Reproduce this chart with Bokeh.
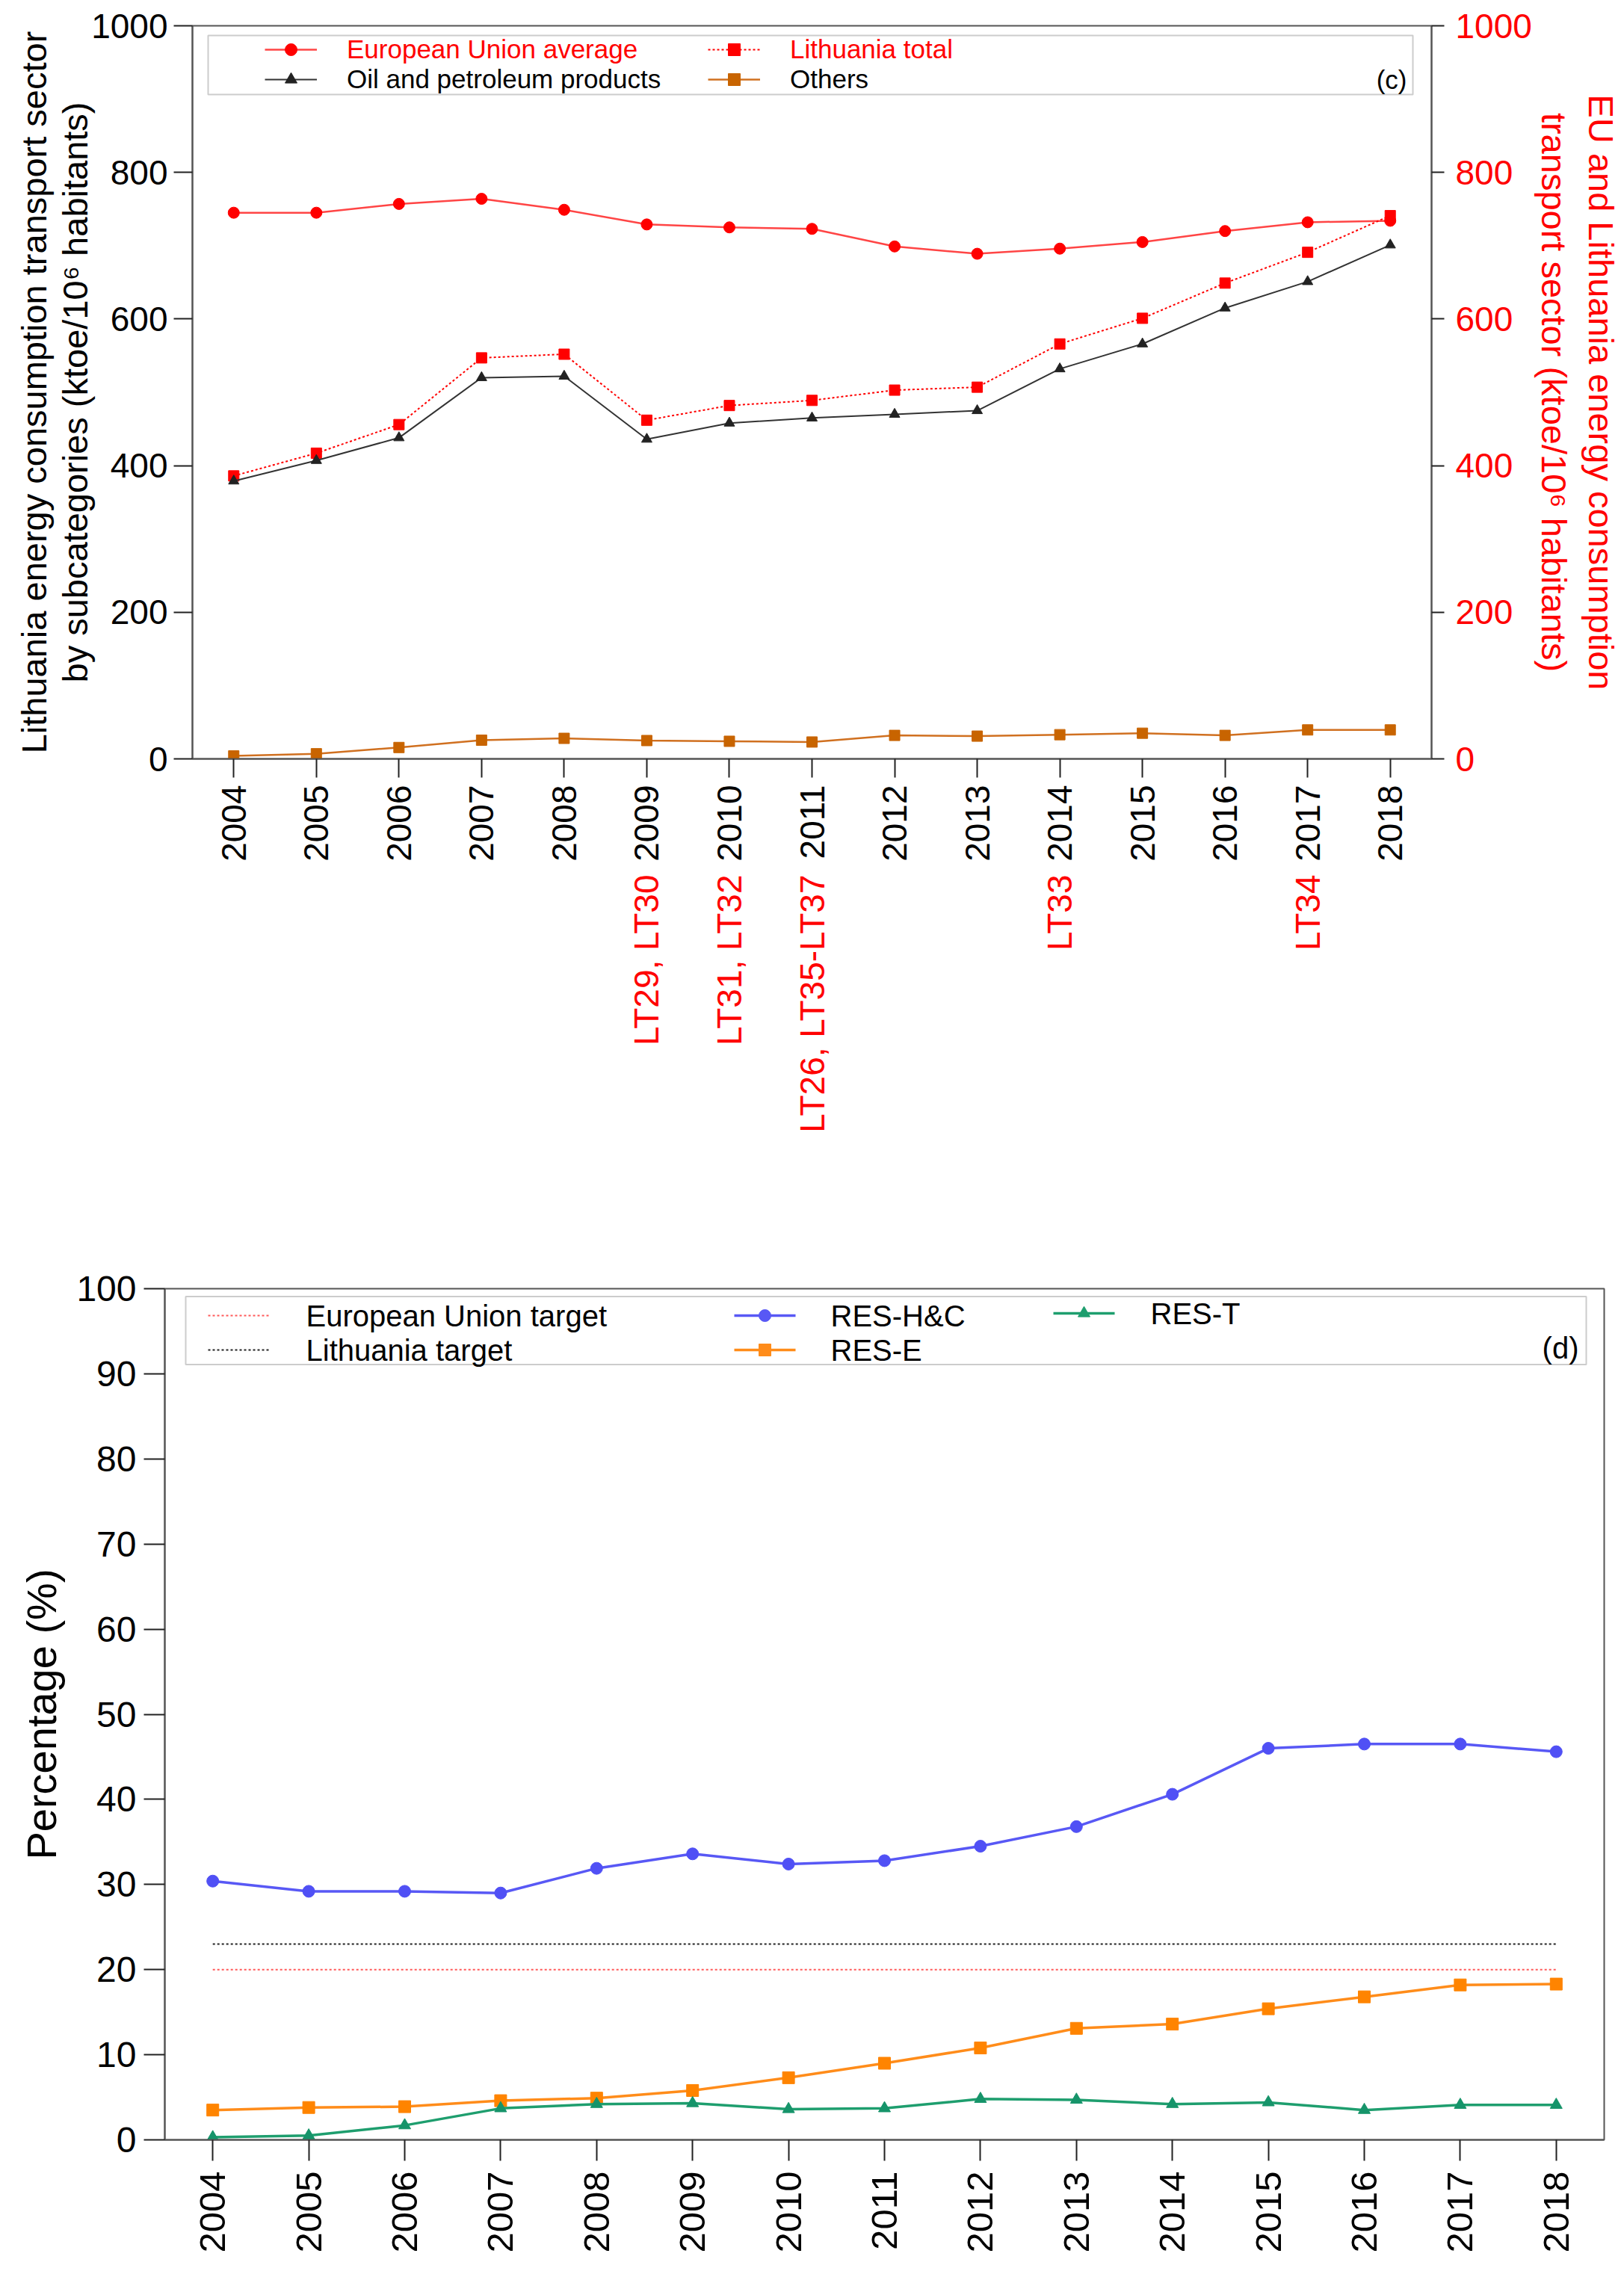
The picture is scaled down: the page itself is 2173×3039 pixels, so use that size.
import math
from bokeh.embed import file_html
from bokeh.resources import INLINE
from bokeh.plotting import figure
from bokeh.models import (ColumnDataSource, LinearAxis, Range1d, FixedTicker, Label, Title,
                          Legend, LegendItem, BoxAnnotation)

# ---- data -------------------------------------------------------------
years = list(range(2004, 2019))

# (c) transport sector, ktoe / 10^6 habitants
eu_average = [745, 745, 757, 764, 749, 729, 725, 723, 699, 689, 696, 705, 720, 732, 734]
lt_total = [386, 417, 456, 547, 552, 462, 482, 489, 503, 507, 566, 601, 649, 691, 741]
oil_products = [379, 407, 438, 520, 522, 436, 458, 465, 470, 475, 532, 566, 615, 651, 701]
others = [4, 7, 15.5, 25.5, 28, 25, 24, 23, 32, 31, 33, 35, 32, 39.5, 39.5]

measure_years = [2009, 2010, 2011, 2014, 2017]
measure_labels = ["LT29, LT30", "LT31, LT32", "LT26, LT35-LT37", "LT33", "LT34"]

# (d) renewable shares, %
res_hc = [30.4, 29.2, 29.2, 29.0, 31.9, 33.6, 32.4, 32.8, 34.5, 36.8, 40.6, 46.0, 46.5, 46.5, 45.6]
res_e = [3.5, 3.8, 3.9, 4.6, 4.9, 5.8, 7.3, 9.0, 10.8, 13.1, 13.6, 15.4, 16.8, 18.2, 18.3]
res_t = [0.3, 0.5, 1.7, 3.7, 4.2, 4.3, 3.6, 3.7, 4.8, 4.7, 4.2, 4.4, 3.5, 4.1, 4.1]
eu_target = 20
lt_target = 23

FONT = "Liberation Sans"
AXIS = "#555555"
TICK = "#222222"


def style_axis(ax, size, tick_out, standoff, color="black"):
    ax.axis_line_color = AXIS
    ax.axis_line_width = 2
    ax.major_tick_line_color = TICK
    ax.major_tick_line_width = 2
    ax.major_tick_in = 0
    ax.major_tick_out = tick_out
    ax.minor_tick_line_color = None
    ax.major_label_text_font = FONT
    ax.major_label_text_font_size = size
    ax.major_label_text_color = color
    ax.major_label_standoff = standoff


def add_title(p, text, side, size, standoff, offset=0, color="black"):
    p.add_layout(Title(text=text, align="center", standoff=standoff, offset=offset,
                       text_font=FONT, text_font_size=size, text_font_style="normal",
                       text_color=color), side)


def add_entry(p, renderers, label, x, y, size, color, glyph_w, standoff, h):
    leg = Legend(items=[LegendItem(label=label, renderers=renderers)], location=(x, y),
                 padding=0, margin=0, spacing=0, glyph_width=glyph_w, glyph_height=h,
                 label_height=h, label_standoff=standoff, label_text_font=FONT,
                 label_text_font_size=size, label_text_color=color,
                 border_line_alpha=0, background_fill_alpha=0)
    p.add_layout(leg)


# ---- (c) ---------------------------------------------------------------
# frame: page x 257..1915, page y 34..1015
def cx(px):
    return 2003.5 + (px - 257) / (1658 / 15)


def cy(py):
    return (1015 - py) / 0.981


p1 = figure(frame_width=1658, frame_height=981, min_border_left=257, min_border_top=34,
            min_border_right=0, min_border_bottom=525,
            x_range=Range1d(2003.5, 2018.5), y_range=Range1d(0, 1000),
            output_backend="svg", toolbar_location=None)
p1.extra_y_ranges = {"right": Range1d(0, 1000)}
p1.grid.visible = False
p1.outline_line_color = AXIS
p1.outline_line_width = 2

p1.xaxis.ticker = FixedTicker(ticks=years)
p1.xaxis.major_label_orientation = math.pi / 2
style_axis(p1.xaxis[0], "46px", 25, 10)
p1.yaxis.ticker = FixedTicker(ticks=[0, 200, 400, 600, 800, 1000])
style_axis(p1.yaxis[0], "46px", 25, 8)

right = LinearAxis(y_range_name="right", ticker=FixedTicker(ticks=[0, 200, 400, 600, 800, 1000]))
style_axis(right, "46px", 17, 15, color="#ff0000")
p1.add_layout(right, "right")

# policy measure codes, set under the year labels
codes = LinearAxis(ticker=FixedTicker(ticks=measure_years),
                   major_label_overrides={y: c for y, c in zip(measure_years, measure_labels)})
style_axis(codes, "46px", 0, 15, color="#ff0000")
codes.axis_line_color = None
codes.major_tick_line_color = None
codes.major_label_orientation = math.pi / 2
p1.add_layout(codes, "below")

add_title(p1, "by subcategories (ktoe/10\u2076 habitants)", "left", "47px", -14, -15)
add_title(p1, "Lithuania energy consumption transport sector", "left", "47px", 14, -11)
add_title(p1, "transport sector (ktoe/10\u2076 habitants)", "right", "47px", 0, 19, "#ff0000")
add_title(p1, "EU and Lithuania energy consumption", "right", "47px", 16, 15, "#ff0000")

src1 = ColumnDataSource(dict(year=years, eu=eu_average, lt=lt_total, oil=oil_products, oth=others))

eu_l = p1.line("year", "eu", source=src1, y_range_name="right", line_color="#ff4545", line_width=2.5)
eu_m = p1.scatter("year", "eu", source=src1, y_range_name="right", marker="circle", size=15,
                  fill_color="#ff0000", line_color="#ff0000")
lt_l = p1.line("year", "lt", source=src1, y_range_name="right", line_color="#ff0000",
               line_width=2, line_dash="3 3")
lt_m = p1.scatter("year", "lt", source=src1, y_range_name="right", marker="square", size=14,
                  fill_color="#ff0000", line_color="#ff0000")
oil_l = p1.line("year", "oil", source=src1, line_color="#333333", line_width=2)
oil_m = p1.scatter("year", "oil", source=src1, marker="triangle", size=14,
                   fill_color="#222222", line_color="#222222")
oth_l = p1.line("year", "oth", source=src1, line_color="#d07020", line_width=2.5)
oth_m = p1.scatter("year", "oth", source=src1, marker="square", size=14,
                   fill_color="#c86400", line_color="#c86400")

p1.add_layout(BoxAnnotation(left=cx(278), right=cx(1890), top=cy(47), bottom=cy(126),
                            fill_color=None, line_color=AXIS, line_width=2))
add_entry(p1, [eu_l, eu_m], "European Union average", 97, 929, "35px", "#ff0000", 70, 40, 40)
add_entry(p1, [oil_l, oil_m], "Oil and petroleum products", 97, 889, "35px", "black", 70, 40, 40)
add_entry(p1, [lt_l, lt_m], "Lithuania total", 690, 929, "35px", "#ff0000", 70, 40, 40)
add_entry(p1, [oth_l, oth_m], "Others", 690, 889, "35px", "black", 70, 40, 40)
p1.add_layout(Label(x=cx(1882), y=cy(106), text="(c)", text_align="right", text_baseline="middle",
                    text_font=FONT, text_font_size="35px", text_color="black"))

# ---- (d) ---------------------------------------------------------------
# frame: page x 220..2146, page y 1724..2863
def dx(px):
    return 2003.5 + (px - 220) / (1926 / 15)


def dy(py):
    return (2863 - py) / 11.39


p2 = figure(frame_width=1926, frame_height=1139, min_border_left=220, min_border_top=184,
            min_border_right=19, min_border_bottom=167,
            x_range=Range1d(2003.5, 2018.5), y_range=Range1d(0, 100),
            output_backend="svg", toolbar_location=None)
p2.grid.visible = False
p2.outline_line_color = AXIS
p2.outline_line_width = 2

p2.xaxis.ticker = FixedTicker(ticks=years)
p2.xaxis.major_label_orientation = math.pi / 2
style_axis(p2.xaxis[0], "49px", 28, 14)
p2.yaxis.ticker = FixedTicker(ticks=list(range(0, 101, 10)))
style_axis(p2.yaxis[0], "48px", 28, 10)
add_title(p2, "Percentage (%)", "left", "56px", 26)

src2 = ColumnDataSource(dict(year=years, hc=res_hc, e=res_e, t=res_t))
span_x = [years[0], years[-1]]

p2.line(span_x, [eu_target, eu_target], line_color="#ff5a5a", line_width=2, line_dash="3 3")
p2.line(span_x, [lt_target, lt_target], line_color="#222222", line_width=2, line_dash="3 3")
p2.line("year", "hc", source=src2, line_color="#5858f5", line_width=3.5)
p2.scatter("year", "hc", source=src2, marker="circle", size=16,
           fill_color="#5050f5", line_color="#5050f5")
p2.line("year", "e", source=src2, line_color="#ff8c1a", line_width=3.5)
p2.scatter("year", "e", source=src2, marker="square", size=16,
           fill_color="#ff8400", line_color="#ff8400")
p2.line("year", "t", source=src2, line_color="#1e9e6e", line_width=3.5)
p2.scatter("year", "t", source=src2, marker="triangle", size=16,
           fill_color="#16946a", line_color="#16946a")

# legend of (d), drawn as keys inside its box
p2.add_layout(BoxAnnotation(left=dx(248), right=dx(2122), top=dy(1734.5), bottom=dy(1825.5),
                            fill_color=None, line_color=AXIS, line_width=2))
legend_d = [
    ("European Union target", 278, 361, 409, 1760, "#ff5a5a", "3 3", None, 2),
    ("Lithuania target", 278, 361, 409, 1806, "#222222", "3 3", None, 2),
    ("RES-H&C", 982, 1064, 1111, 1760, "#5858f5", "solid", "circle", 3.5),
    ("RES-E", 982, 1064, 1111, 1806, "#ff8c1a", "solid", "square", 3.5),
    ("RES-T", 1409, 1491, 1539, 1757, "#1e9e6e", "solid", "triangle", 3.5),
]
for text, x0, x1, xt, yc, col, dash, marker, lw in legend_d:
    p2.line([dx(x0), dx(x1)], [dy(yc), dy(yc)], line_color=col, line_width=lw, line_dash=dash)
    if marker:
        p2.scatter([dx((x0 + x1) / 2)], [dy(yc)], marker=marker, size=16,
                   fill_color=col, line_color=col)
    p2.add_layout(Label(x=dx(xt), y=dy(yc), text=text, text_baseline="middle",
                        text_font=FONT, text_font_size="40px", text_color="black"))
p2.add_layout(Label(x=dx(2112), y=dy(1803), text="(d)", text_align="right", text_baseline="middle",
                    text_font=FONT, text_font_size="40px", text_color="black"))

# two separate roots, stacked on the page without frame alignment
open("out.html", "w").write(file_html([p1, p2], INLINE))
